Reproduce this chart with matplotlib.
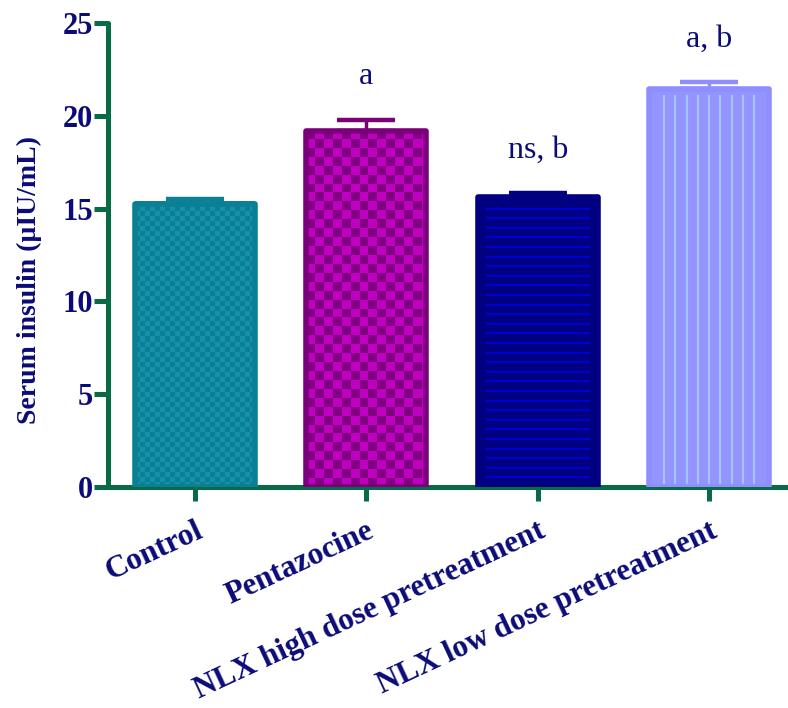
import numpy as np
import matplotlib.pyplot as plt
from matplotlib.colors import ListedColormap

groups = ['Control', 'Pentazocine', 'NLX high dose pretreatment', 'NLX low dose pretreatment']
means = [15.25, 19.2, 15.65, 21.45]
sems = [0.25, 0.6, 0.2, 0.35]
marks = ['', 'a', 'ns, b', 'a, b']

face = ['#1592a8', '#c000c0', '#000080', '#9494ff']
alt = ['#0c7f96', '#820082', '#0000cc', '#a6c4ff']
edge = ['#0b7f94', '#7a007a', '#000080', '#8e8eff']
pattern = ['checker', 'checker', 'hlines', 'vlines']
cell = [(0.029, 0.27), (0.052, 0.48), None, None]

navy = '#0b0b78'
green = '#076b45'
serif = 'Liberation Serif'

fig = plt.figure(figsize=(7.88, 7.08), dpi=100)
ax = fig.add_axes([0.137, 0.312, 0.863, 0.6555])

x = np.arange(len(groups))
w = 0.70

for i in range(len(groups)):
    x0, x1 = x[i] - w / 2, x[i] + w / 2
    h = means[i]
    ax.bar(x[i], h, w, color=face[i], linewidth=0, zorder=1)
    if pattern[i] == 'checker':
        cw, ch = cell[i]
        nc = int(round(w / cw))
        nr = int(np.ceil(h / ch))
        yy, xx = np.indices((nr, nc))
        img = (yy + xx) % 2
        ax.imshow(img, cmap=ListedColormap([face[i], alt[i]]), origin='lower',
                  extent=(x0, x0 + nc * cw, 0, nr * ch), aspect='auto',
                  interpolation='nearest', zorder=2)
    elif pattern[i] == 'hlines':
        ys = np.arange(h - 0.65, 0, -0.517)
        ax.hlines(ys, x0 + 0.045, x1 - 0.045, color=alt[i], lw=1.6, zorder=2)
    else:
        xs = x[i] + 0.066 * np.arange(-4, 5)
        ax.vlines(xs, 0, h - 0.32, color=alt[i], lw=1.6, zorder=2)
    ax.bar(x[i], h, w, facecolor='none', edgecolor=edge[i], linewidth=4,
           joinstyle='round', zorder=3)
    ax.errorbar(x[i], h, yerr=[[0], [sems[i]]], fmt='none', ecolor=edge[i],
                elinewidth=2.5, capsize=21, capthick=3.2, zorder=0.5)
    if marks[i]:
        ax.text(x[i], h + sems[i] + 2.3, marks[i], ha='center', va='center',
                fontsize=23, family=serif, color=navy)

ax.set_xlim(-0.508, 3.46)
ax.set_ylim(0, 25)
ax.set_yticks([0, 5, 10, 15, 20, 25])
ax.set_xticks(x)
ax.set_xticklabels(groups, rotation=25, ha='right', rotation_mode='anchor')

for s in ['top', 'right']:
    ax.spines[s].set_visible(False)
for s in ['left', 'bottom']:
    ax.spines[s].set_color(green)
    ax.spines[s].set_linewidth(3.6)
    ax.spines[s].set_capstyle('round')

ax.tick_params(axis='y', length=10, width=3.6, color=green, labelcolor=navy,
               pad=1, labelsize=22)
ax.tick_params(axis='x', length=10, width=3.6, color=green, labelcolor=navy,
               pad=11, labelsize=22.5)
for lab in ax.get_xticklabels() + ax.get_yticklabels():
    lab.set_fontfamily(serif)
    lab.set_fontweight('bold')

ax.set_ylabel('Serum insulin (µIU/mL)', fontsize=20, fontweight='bold',
              family=serif, color=navy)
ax.yaxis.set_label_coords(-0.097, 0.446)

fig.savefig('out.png', dpi=100)
